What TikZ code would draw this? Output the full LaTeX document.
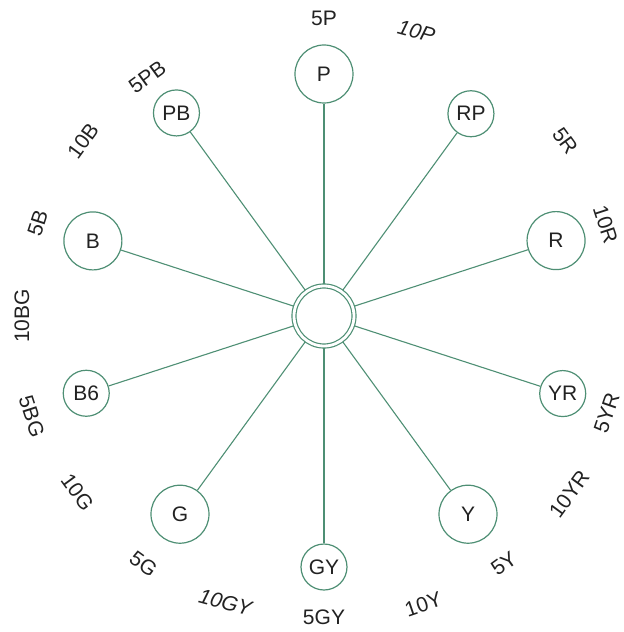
\documentclass[tikz,border=0pt]{standalone}
\usepackage{fontspec}
\setmainfont{Liberation Sans}
\usepackage{xcolor}
\usepackage{tikz}
\usetikzlibrary{arrows.meta,positioning}
\definecolor{hue}{HTML}{4E8F74}
\definecolor{ink}{HTML}{222222}
\tikzset{
  hub/.style={draw=hue, circle, line width=0.6pt, double, double distance=1.4pt, minimum size=30pt, inner sep=0pt, outer sep=1pt},
  big/.style={draw=hue, circle, line width=0.6pt, minimum size=29pt, inner sep=0pt, fill=white, text=ink, font=\fontsize{10.5}{11}\selectfont},
  small/.style={big, minimum size=23pt},
  tick/.style={text=ink, inner sep=0pt, font=\fontsize{10.5}{11}\selectfont},
  spoke/.style={draw=hue, line width=0.55pt},
}
\begin{document}
\begin{tikzpicture}[x=0.5pt, y=0.5pt]
\useasboundingbox (-324,-316) rectangle (300,316);
\node[hub] (c) at (0,0) {};
\node[big] (p) at (90:242) {P};
\node[small] (rp) at (54:250) {RP};
\node[big] (r) at (18:244) {R};
\node[small] (yr) at (-18:251) {YR};
\node[big] (y) at (-54:245) {Y};
\node[small] (gy) at (-90:251) {GY};
\node[big] (g) at (-126:245) {G};
\node[small] (b6) at (-162:250) {B6};
\node[big] (b) at (162:243) {B};
\node[small] (pb) at (126:251) {PB};
\draw[spoke] (c) -- (p); \draw[spoke] (c) -- (rp);
\draw[spoke] (c) -- (r); \draw[spoke] (c) -- (yr);
\draw[spoke] (c) -- (y); \draw[spoke] (c) -- (gy);
\draw[spoke] (c) -- (g); \draw[spoke] (c) -- (b6);
\draw[spoke] (c) -- (b); \draw[spoke] (c) -- (pb);
% hue steps round the rim
\node[tick] (t5p) at (90:298) {5P};
\node[tick, rotate=-15, font=\fontsize{10.5}{11}\selectfont\itshape] (t10p) at (72:299) {10P};
\node[tick, rotate=-54] (t5r) at (36:298) {5R};
\node[tick, rotate=-72] (t10r) at (18:296) {10R};
\node[tick, rotate=71] (t5yr) at (-19:299) {5YR};
\node[tick, rotate=54] (t10yr) at (-36:303) {10YR};
\node[tick, rotate=36] (t5y) at (-54:306) {5Y};
\node[tick, rotate=19] (t10y) at (-71:305) {10Y};
\node[tick] (t5gy) at (-90:301) {5GY};
\node[tick, rotate=-15, font=\fontsize{10.5}{11}\selectfont\itshape] (t10gy) at (-109:303) {10GY};
\node[tick, rotate=-36] (t5g) at (-126:307) {5G};
\node[tick, rotate=-54] (t10g) at (-144.5:303) {10G};
\node[tick, rotate=-72] (t5bg) at (-161:309) {5BG};
\node[tick, rotate=90] (t10bg) at (180:302) {10BG};
\node[tick, rotate=72] (t5b) at (162:301) {5B};
\node[tick, rotate=54] (t10b) at (144:298) {10B};
\node[tick, rotate=36] (t5pb) at (126.5:297) {5PB};
\end{tikzpicture}
\end{document}
